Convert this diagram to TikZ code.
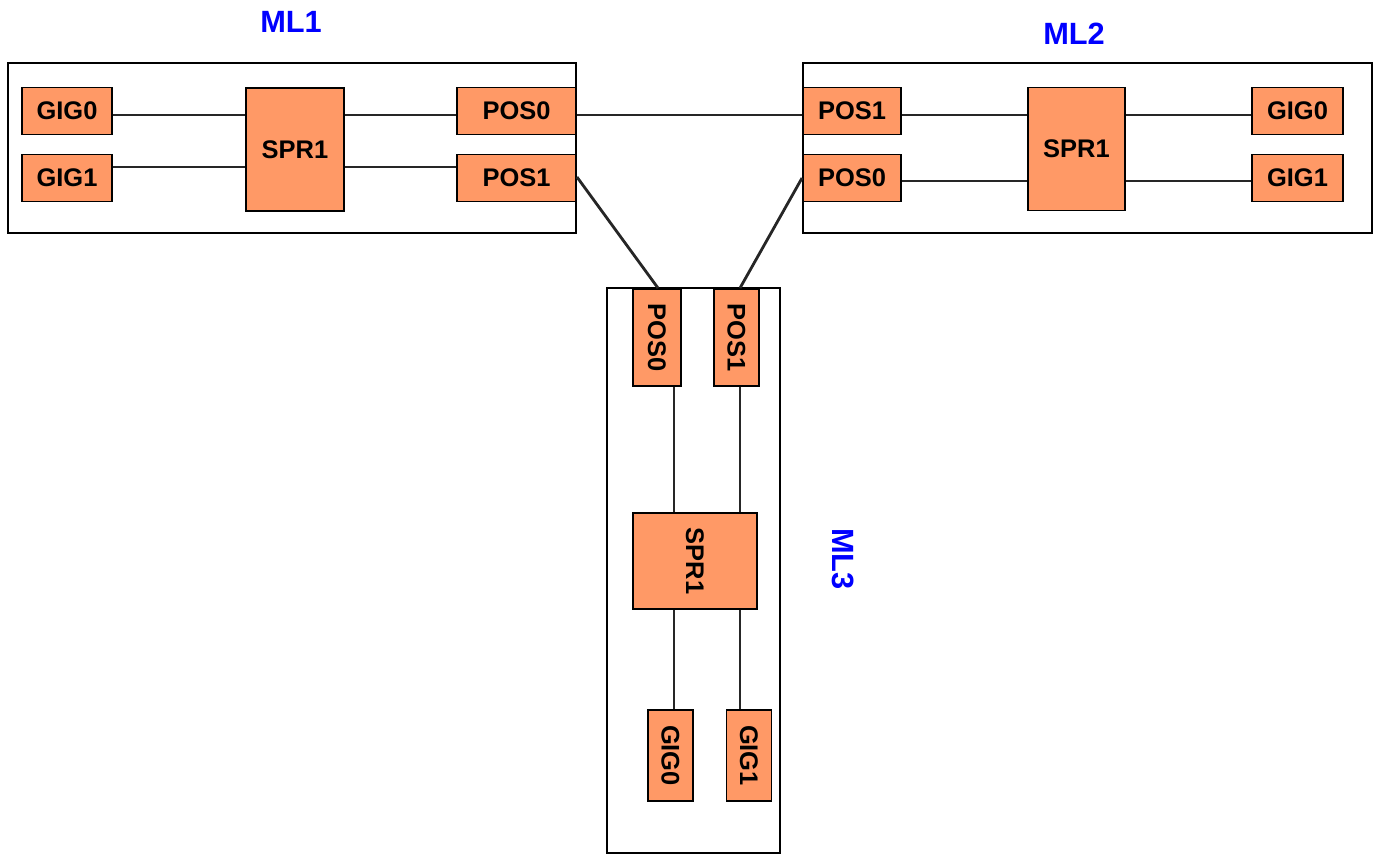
\documentclass[tikz,border=0pt]{standalone}
\usepackage{fontspec}
\setmainfont{Liberation Sans}
\usepackage{tikz}
\usetikzlibrary{positioning,calc}
\usepackage{xcolor}
\definecolor{portc}{RGB}{255,153,102}
\definecolor{lblc}{RGB}{0,0,255}
\tikzset{
  port/.style={rectangle,draw=black,fill=portc,line width=1.1pt,
    minimum width=#1,minimum height=0.94cm,inner sep=0pt,
    font=\fontsize{14.5}{16}\selectfont\bfseries},
  port/.default=1.8cm,
  spr/.style={port=#1,minimum height=2.46cm},
  spr/.default=1.96cm,
  card/.style={rectangle,draw=black,line width=1.3pt,
    minimum width=#1,inner sep=0pt},
  card/.default=11.36cm,
  lnk/.style={line width=1.6pt,color=black!85},
  lbl/.style={text=lblc,font=\fontsize{17.5}{20}\selectfont\bfseries},
}

\begin{document}
\begin{tikzpicture}[x=0.02cm,y=-0.02cm]
        \useasboundingbox (0,0) rectangle (1377,855);
        % ML1
        \node[card,minimum height=3.4cm] (ml1) at (292,148) {};
        \node[lbl] (ml1lbl) at (291,22) {ML1};
        \node[port] (m1gig0) at (67,111) {GIG0};
        \node[port] (m1gig1) at (67,178) {GIG1};
        \node[spr] (m1spr) at (295,149.5) {SPR1};
        \node[port=2.38cm] (m1pos0) at (516.5,111) {POS0};
        \node[port=2.38cm] (m1pos1) at (516.5,178) {POS1};
        \draw[lnk] (m1gig0.east |- 0,115) -- (m1spr.west |- 0,115);
        \draw[lnk] (m1gig1.east |- 0,167) -- (m1spr.west |- 0,167);
        \draw[lnk] (m1spr.east |- 0,115) -- (m1pos0.west |- 0,115);
        \draw[lnk] (m1spr.east |- 0,167) -- (m1pos1.west |- 0,167);
        % ML2
        \node[card=11.38cm,minimum height=3.4cm] (ml2) at (1087.5,148) {};
        \node[lbl] (ml2lbl) at (1074,34) {ML2};
        \node[port=1.96cm] (m2pos1) at (852,111) {POS1};
        \node[port=1.96cm] (m2pos0) at (852,178) {POS0};
        \node[spr=1.94cm] (m2spr) at (1076.5,149) {SPR1};
        \node[port=1.82cm] (m2gig0) at (1297.5,111) {GIG0};
        \node[port=1.82cm] (m2gig1) at (1297.5,178) {GIG1};
        \draw[lnk] (m2pos1.east |- 0,115) -- (m2spr.west |- 0,115);
        \draw[lnk] (m2pos0.east |- 0,181) -- (m2spr.west |- 0,181);
        \draw[lnk] (m2spr.east |- 0,115) -- (m2gig0.west |- 0,115);
        \draw[lnk] (m2spr.east |- 0,181) -- (m2gig1.west |- 0,181);
        % ML3
        \node[card=11.3cm,minimum height=3.46cm,rotate=-90] (ml3) at (693.5,570.5) {};
        \node[lbl,rotate=-90] (ml3lbl) at (843,559) {ML3};
        \node[port=1.94cm,minimum height=0.96cm,rotate=-90] (m3pos0) at (657,337.5) {POS0};
        \node[port=1.94cm,minimum height=0.9cm,rotate=-90] (m3pos1) at (736.5,337.5) {POS1};
        \node[spr=1.92cm,minimum height=2.48cm,rotate=-90] (m3spr) at (695,561) {SPR1};
        \node[port=1.82cm,minimum height=0.9cm,rotate=-90] (m3gig0) at (670.5,755.5) {GIG0};
        \node[port=1.82cm,minimum height=0.9cm,rotate=-90] (m3gig1) at (749,755.5) {GIG1};
        \draw[lnk] (m3pos0.east -| 674,0) -- (m3spr.west -| 674,0);
        \draw[lnk] (m3pos1.east -| 740,0) -- (m3spr.west -| 740,0);
        \draw[lnk] (m3spr.east -| 674,0) -- (m3gig0.west -| 674,0);
        \draw[lnk] (m3spr.east -| 740,0) -- (m3gig1.west -| 740,0);
        % links between cards
        \draw[lnk] (m1pos0.east |- 0,115) -- (m2pos1.west |- 0,115);
        \draw[lnk] (m1pos1.east |- 0,177) -- (m3pos0.west -| 658,0);
        \draw[lnk] (m2pos0.west) -- (m3pos1.west -| 740,0);
      \end{tikzpicture}
\end{document}
